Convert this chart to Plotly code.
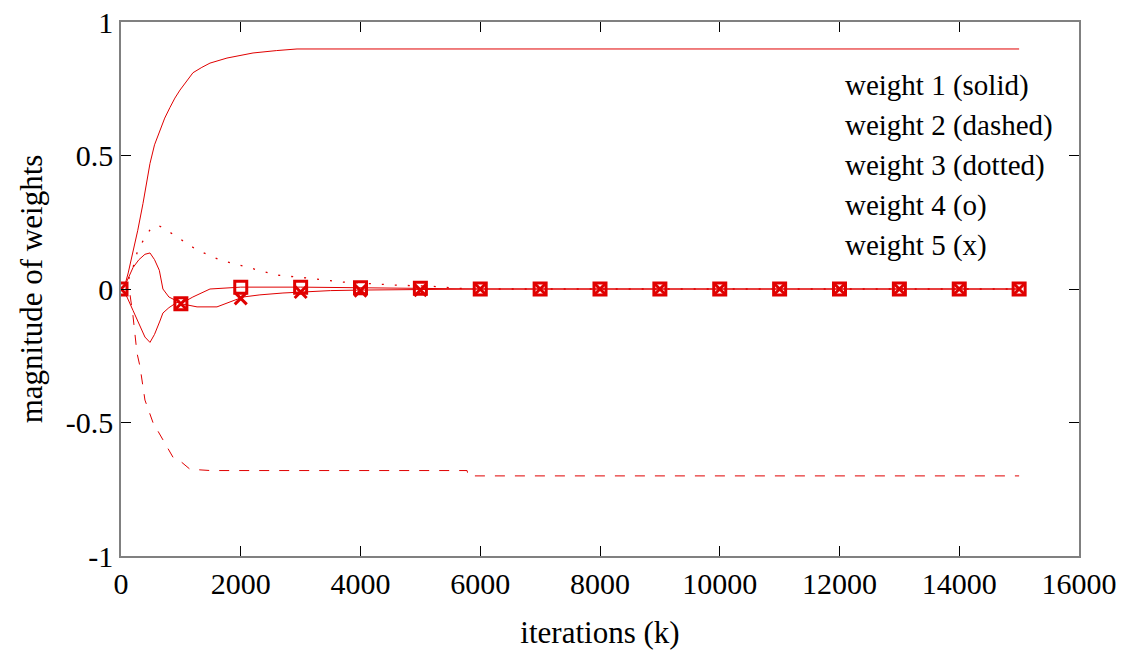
import plotly.graph_objects as go

# ---- data ----
w1_x = [0, 60, 120, 200, 280, 367, 430, 484, 560, 651, 730, 818, 900, 985, 1100, 1202, 1350, 1486, 1770, 2205, 2600, 2940, 15000]
w1_y = [0, 0.01, 0.06, 0.135, 0.22, 0.32, 0.40, 0.47, 0.54, 0.595, 0.64, 0.68, 0.715, 0.745, 0.78, 0.81, 0.83, 0.846, 0.865, 0.884, 0.893, 0.899, 0.899]

w2_x = [0, 100, 150, 200, 267, 317, 400, 534, 701, 868, 1019, 1152, 1500, 2500, 3500, 4500, 5780, 5800, 15000]
w2_y = [0, 0.02, -0.02, -0.1, -0.24, -0.29, -0.416, -0.50, -0.565, -0.63, -0.65, -0.675, -0.68, -0.68, -0.68, -0.68, -0.68, -0.70, -0.70]

w3_x = [0, 100, 200, 267, 367, 480, 601, 700, 935, 1270, 1653, 2154, 2605, 3106, 3707, 4543, 5200, 5800, 15000]
w3_y = [0, 0.02, 0.08, 0.135, 0.18, 0.22, 0.24, 0.23, 0.195, 0.146, 0.109, 0.079, 0.052, 0.041, 0.026, 0.015, 0.01, 0.0, 0.0]

w4_x = [0, 100, 200, 300, 400, 484, 560, 650, 700, 800, 935, 1000, 1200, 1486, 1800, 2000, 3000, 4000, 5000, 6000, 15000]
w4_y = [0, -0.03, -0.08, -0.13, -0.18, -0.2, -0.17, -0.12, -0.09, -0.07, -0.05, -0.055, -0.03, 0.0, 0.005, 0.007, 0.007, 0.005, 0.003, 0.0, 0.0]

w5_x = [0, 100, 200, 300, 400, 484, 560, 640, 700, 800, 935, 1000, 1270, 1603, 2038, 2320, 2705, 3000, 3500, 4000, 5000, 6000, 15000]
w5_y = [0, 0.03, 0.08, 0.11, 0.13, 0.135, 0.11, 0.07, 0.0, -0.03, -0.045, -0.055, -0.067, -0.067, -0.03, -0.022, -0.015, -0.011, -0.006, -0.004, -0.002, 0.0, 0.0]

marker_x = [0, 1000, 2000, 3000, 4000, 5000, 6000, 7000, 8000, 9000, 10000, 11000, 12000, 13000, 14000, 15000]
w4_marker_y = [0, -0.055, 0.007, 0.007, 0.005, 0.003, 0, 0, 0, 0, 0, 0, 0, 0, 0, 0]
w5_marker_y = [0, -0.055, -0.035, -0.011, -0.006, -0.004, 0, 0, 0, 0, 0, 0, 0, 0, 0, 0]

legend_labels = ["weight 1 (solid)", "weight 2 (dashed)", "weight 3 (dotted)", "weight 4 (o)", "weight 5 (x)"]

x_ticks = [0, 2000, 4000, 6000, 8000, 10000, 12000, 14000, 16000]
y_ticks = [-1, -0.5, 0, 0.5, 1]
y_tick_text = ["-1", "-0.5", "0", "0.5", "1"]

RED = "#e00000"
FONT = "Liberation Serif"

fig = go.Figure()
fig.add_trace(go.Scatter(x=w1_x, y=w1_y, mode="lines", line=dict(color=RED, width=1)))
fig.add_trace(go.Scatter(x=w2_x, y=w2_y, mode="lines", line=dict(color=RED, width=1, dash="10px,10px")))
fig.add_trace(go.Scatter(x=w3_x, y=w3_y, mode="lines", line=dict(color=RED, width=1.3, dash="2px,11px")))
fig.add_trace(go.Scatter(x=w4_x, y=w4_y, mode="lines", line=dict(color=RED, width=1)))
fig.add_trace(go.Scatter(x=w5_x, y=w5_y, mode="lines", line=dict(color=RED, width=1)))
fig.add_trace(go.Scatter(x=marker_x, y=w4_marker_y, mode="markers",
                         marker=dict(symbol="square-open", size=12, color=RED, line=dict(width=3, color=RED))))
fig.add_trace(go.Scatter(x=marker_x, y=w5_marker_y, mode="markers",
                         marker=dict(symbol="x-thin-open", size=12, color=RED, line=dict(width=3, color=RED))))

legend_y = [0.882, 0.807, 0.732, 0.657, 0.582]
for lab, yy in zip(legend_labels, legend_y):
    fig.add_annotation(text=lab, x=0.7537, y=yy, xref="paper", yref="paper",
                       xanchor="left", yanchor="middle", showarrow=False,
                       font=dict(family=FONT, size=29, color="black"))

fig.update_layout(
    width=1133, height=650,
    margin=dict(l=121, r=54, t=22, b=94, autoexpand=False),
    plot_bgcolor="white", paper_bgcolor="white",
    showlegend=False,
    font=dict(family=FONT, size=30, color="black"),
)
fig.update_xaxes(range=[0, 16000], tickvals=x_ticks, ticktext=[str(v) for v in x_ticks],
                 showgrid=False, zeroline=False, showline=True, linecolor="#808080", linewidth=1.5,
                 mirror="ticks", ticks="inside", ticklen=10, tickcolor="black", tickwidth=1,
                 automargin=False,
                 title=dict(text="iterations (k)", standoff=24, font=dict(family=FONT, size=31)),
                 tickfont=dict(family=FONT, size=30))
fig.update_yaxes(range=[-1, 1], tickvals=y_ticks, ticktext=y_tick_text,
                 showgrid=False, zeroline=False, showline=True, linecolor="#808080", linewidth=1.5,
                 mirror="ticks", ticks="inside", ticklen=10, tickcolor="black", tickwidth=1,
                 automargin=False,
                 title=dict(text="magnitude of weights", standoff=14, font=dict(family=FONT, size=31)),
                 tickfont=dict(family=FONT, size=30))

fig.write_html("out.html")
